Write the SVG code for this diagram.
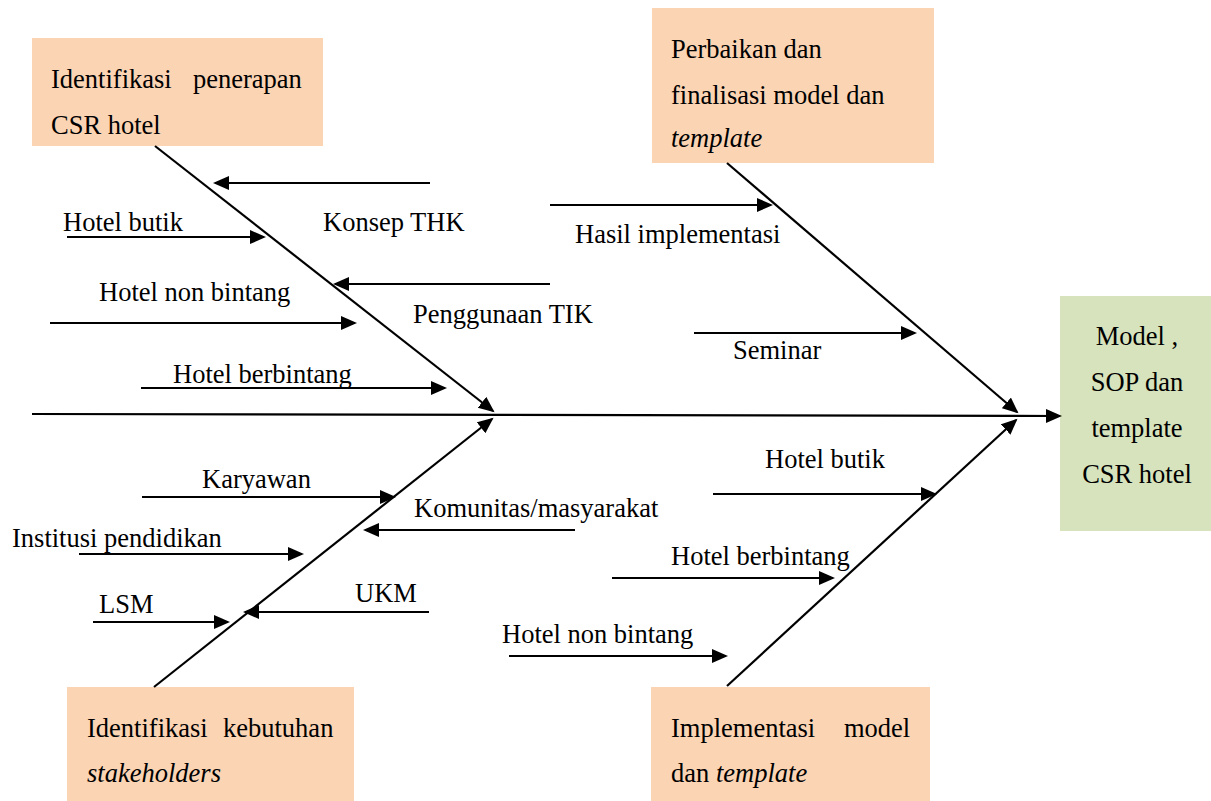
<svg xmlns="http://www.w3.org/2000/svg" width="1211" height="801" viewBox="0 0 1211 801">
<style>
text{font-family:"Times New Roman","Liberation Serif",Tinos,"DejaVu Serif",serif;font-size:26.5px;fill:#000}
.it{font-style:italic}
.box{fill:#FBD4B4}
.res{fill:#D6E3BC}
.ln{stroke:#000;stroke-width:2.2;fill:none;marker-end:url(#ah)}
</style>
<defs>
<marker id="ah" markerUnits="userSpaceOnUse" markerWidth="17" markerHeight="15" refX="14" refY="7" orient="auto">
<path d="M0,0 L16,7 L0,14 z" fill="#000"/>
</marker>
</defs>
<rect width="1211" height="801" fill="#fff"/>
<g id="box-identifikasi-penerapan">
<rect class="box" x="32" y="38" width="291" height="108"/>
<text x="51" y="88">Identifikasi</text>
<text x="193" y="88">penerapan</text>
<text x="51" y="134">CSR hotel</text>
</g>
<g id="box-perbaikan">
<rect class="box" x="652" y="8" width="282" height="155"/>
<text x="671" y="58">Perbaikan dan</text>
<text x="671" y="104">finalisasi model dan</text>
<text x="671" y="147" class="it">template</text>
</g>
<g id="box-identifikasi-kebutuhan">
<rect class="box" x="67" y="687" width="287" height="114"/>
<text x="87" y="737">Identifikasi</text>
<text x="223" y="737">kebutuhan</text>
<text x="87" y="782" class="it">stakeholders</text>
</g>
<g id="box-implementasi">
<rect class="box" x="651" y="687" width="279" height="114"/>
<text x="671" y="737">Implementasi</text>
<text x="844" y="737">model</text>
<text x="671" y="782">dan <tspan class="it">template</tspan></text>
</g>
<g id="box-hasil">
<rect class="res" x="1060" y="296" width="151" height="235"/>
<text x="1137" y="345" text-anchor="middle">Model ,</text>
<text x="1137" y="391" text-anchor="middle">SOP dan</text>
<text x="1137" y="437" text-anchor="middle">template</text>
<text x="1137" y="483" text-anchor="middle">CSR hotel</text>
</g>
<g id="connectors">
<line class="ln" x1="32" y1="414" x2="1060" y2="416"/>
<line class="ln" x1="155" y1="146" x2="493" y2="411"/>
<line class="ln" x1="154" y1="687" x2="492" y2="419"/>
<line class="ln" x1="727" y1="163" x2="1017" y2="412"/>
<line class="ln" x1="727" y1="686" x2="1016" y2="420"/>
<line class="ln" x1="430" y1="183" x2="215" y2="183"/>
<line class="ln" x1="67" y1="237" x2="264" y2="237"/>
<line class="ln" x1="550" y1="284" x2="335" y2="284"/>
<line class="ln" x1="50" y1="323" x2="355" y2="323"/>
<line class="ln" x1="141" y1="388" x2="445" y2="388"/>
<line class="ln" x1="550" y1="205" x2="771" y2="205"/>
<line class="ln" x1="694" y1="333" x2="915" y2="333"/>
<line class="ln" x1="142" y1="497" x2="394" y2="497"/>
<line class="ln" x1="575" y1="530" x2="365" y2="530"/>
<line class="ln" x1="79" y1="554" x2="302" y2="554"/>
<line class="ln" x1="429" y1="612" x2="245" y2="612"/>
<line class="ln" x1="93" y1="622" x2="228" y2="622"/>
<line class="ln" x1="713" y1="494" x2="935" y2="494"/>
<line class="ln" x1="612" y1="578" x2="833" y2="578"/>
<line class="ln" x1="509" y1="656" x2="726" y2="656"/>
</g>
<g id="labels">
<text x="323" y="231">Konsep THK</text>
<text x="63" y="231">Hotel butik</text>
<text x="413" y="323">Penggunaan TIK</text>
<text x="99" y="301">Hotel non bintang</text>
<text x="173" y="383">Hotel berbintang</text>
<text x="575" y="243">Hasil implementasi</text>
<text x="733" y="359">Seminar</text>
<text x="202" y="488">Karyawan</text>
<text x="414" y="517">Komunitas/masyarakat</text>
<text x="12" y="547">Institusi pendidikan</text>
<text x="355" y="602">UKM</text>
<text x="99" y="613">LSM</text>
<text x="765" y="468">Hotel butik</text>
<text x="671" y="565">Hotel berbintang</text>
<text x="502" y="643">Hotel non bintang</text>
</g>
</svg>
